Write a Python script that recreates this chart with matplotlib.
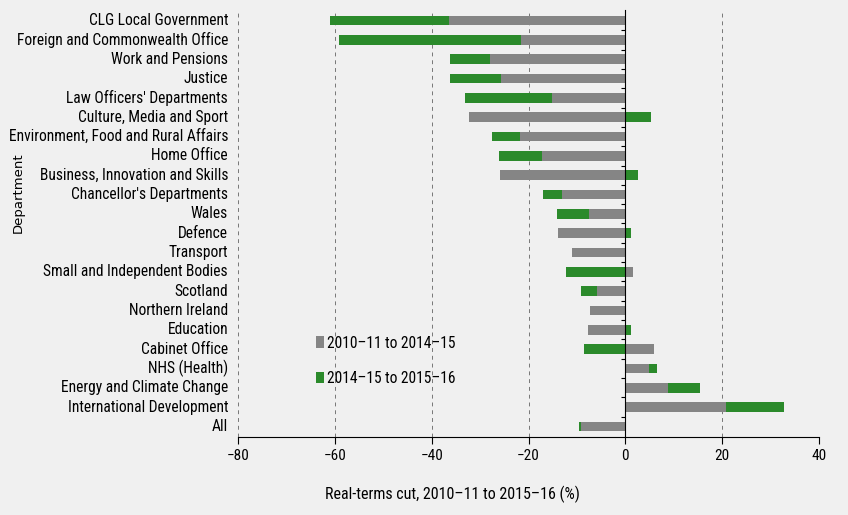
import matplotlib.pyplot as plt
import matplotlib.transforms as mtransforms
from matplotlib.patches import Patch
import numpy as np

departments = [
    "CLG Local Government", "Foreign and Commonwealth Office", "Work and Pensions",
    "Justice", "Law Officers' Departments", "Culture, Media and Sport",
    "Environment, Food and Rural Affairs", "Home Office", "Business, Innovation and Skills",
    "Chancellor's Departments", "Wales", "Defence", "Transport",
    "Small and Independent Bodies", "Scotland", "Northern Ireland", "Education",
    "Cabinet Office", "NHS (Health)", "Energy and Climate Change",
    "International Development", "All",
]
cut_2010_15 = [-36.5, -21.5, -27.9, -25.7, -15.1, -32.2, -21.8, -17.2, -25.9, -13.0,
               -7.5, -14.0, -11.1, 1.6, -5.9, -7.2, -7.8, 6.0, 4.9, 8.9, 20.8, -9.2]
cut_2015_16 = [-24.4, -37.7, -8.4, -10.6, -18.1, 5.3, -5.7, -8.9, 2.6, -4.0,
               -6.7, 1.2, 0.0, -12.3, -3.2, 0.0, 1.2, -8.5, 1.7, 6.6, 12.0, -0.4]
series_labels = ["2010\u201311 to 2014\u201315", "2014\u201315 to 2015\u201316"]
colors = ["#858585", "#2b8a2b"]

bg = "#f0f0f0"
label_font = ["Roboto Condensed", "Roboto", "DejaVu Sans"]

fig = plt.figure(figsize=(8.48, 5.15), dpi=100, facecolor=bg)
ax = fig.add_axes([238 / 848, 1 - 437 / 515, (819 - 238) / 848, (437 - 10) / 515])
ax.set_facecolor(bg)

y = np.arange(len(departments))
pos = np.zeros(len(departments))
neg = np.zeros(len(departments))
for vals, col in zip([cut_2010_15, cut_2015_16], colors):
    vals = np.array(vals)
    left = np.where(vals >= 0, pos, neg)
    ax.barh(y, vals, left=left, height=0.5, color=col, zorder=3)
    pos = pos + np.where(vals >= 0, vals, 0)
    neg = neg + np.where(vals < 0, vals, 0)

ax.set_xlim(-80, 40)
ax.set_ylim(len(departments) - 0.45, -0.55)
ax.set_xticks(np.arange(-80, 41, 20))
ax.tick_params(axis="x", length=5, labelsize=11, pad=4)
for lab in ax.get_xticklabels():
    lab.set_family(label_font)
ax.grid(axis="x", linestyle=(0, (4, 4)), color="#777777", linewidth=0.7, zorder=0)

for s in ["top", "right"]:
    ax.spines[s].set_visible(False)
ax.spines["left"].set_position(("data", 0))
ax.spines["left"].set_zorder(4)
ax.set_yticks(np.arange(len(departments) - 1) + 0.5)
ax.tick_params(axis="y", length=3, labelleft=False)

trans = mtransforms.blended_transform_factory(ax.transAxes, ax.transData)
for yi, name in zip(y, departments):
    ax.text(-0.017, yi, name, transform=trans, ha="right", va="center",
            fontsize=11.2, family=label_font)

ax.set_xlabel("Real-terms cut, 2010\u201311 to 2015\u201316 (%)", fontsize=11.5,
              family=label_font)
ax.xaxis.set_label_coords(0.149, -0.115)
ax.xaxis.label.set_ha("left")

fig.text(18 / 848, 1 - 193 / 515, "Department", rotation=90, ha="center", va="center",
         fontsize=9.5)

handles = [Patch(facecolor=c, edgecolor="none") for c in colors]
ax.legend(handles, series_labels, loc="upper left", bbox_to_anchor=(0.11, 0.27),
          frameon=False, handlelength=0.55, handleheight=0.8, handletextpad=0.15,
          labelspacing=1.3, prop={"family": label_font, "size": 11.2})

fig.savefig("out.png", dpi=100, facecolor=bg)
